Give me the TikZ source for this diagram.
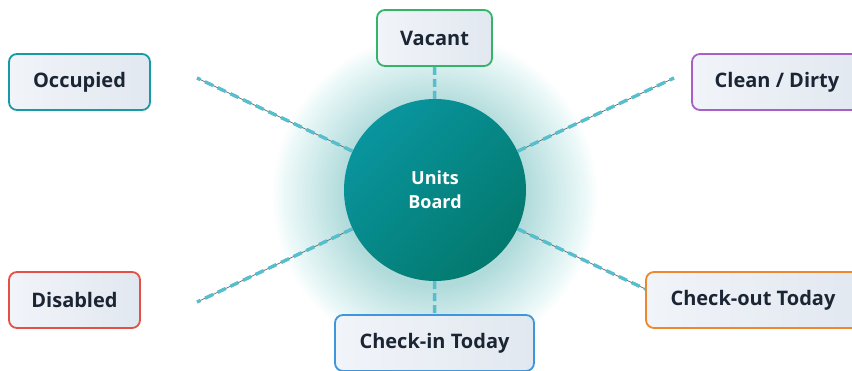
\documentclass[tikz,border=0pt]{standalone}
\usepackage{fontspec}
\setmainfont{Open Sans}
\usetikzlibrary{calc}
\definecolor{glowc}{RGB}{110,196,202}
\definecolor{hubA}{RGB}{9,149,158}
\definecolor{hubB}{RGB}{3,121,110}
\definecolor{boxA}{RGB}{241,244,249}
\definecolor{boxB}{RGB}{226,232,240}
\definecolor{txt}{RGB}{27,37,52}
\definecolor{cgreen}{RGB}{52,180,104}
\definecolor{cteal}{RGB}{24,154,166}
\definecolor{cpurple}{RGB}{168,96,198}
\definecolor{cred}{RGB}{229,80,70}
\definecolor{cblue}{RGB}{62,150,220}
\definecolor{corange}{RGB}{238,136,46}
\definecolor{dashc}{RGB}{86,190,204}
\definecolor{linec}{RGB}{100,100,100}
\tikzset{
  statebox/.style={draw=#1, line width=1.8pt, rounded corners=8pt,
    left color=boxA, right color=boxB, text=txt,
    font=\fontsize{20}{24}\selectfont\bfseries,
    minimum height=56pt, inner sep=0pt},
  hubnode/.style={circle, minimum size=182pt, inner sep=0pt,
    top color=hubA, bottom color=hubB, shading angle=45,
    text=white, align=center,
    font=\fontsize{18}{24}\selectfont\bfseries},
  baseline line/.style={draw=linec, line width=0.7pt},
  dashline/.style={draw=dashc, line width=3.4pt, dash pattern=on 9pt off 5pt},
  vdash/.style={draw=dashc, line width=3.5pt, dash pattern=on 8pt off 4pt},
  glowring/.style={fill=glowc, opacity=0.017}
}
\begin{document}
\begin{tikzpicture}[x=1pt,y=-1pt]
\useasboundingbox (0,0) rectangle (852,370);
\clip (0,0) rectangle (852,370);
\fill[white] (0,0) rectangle (852,370);
% glow
\foreach \r in {92,94,...,162}{
  \fill[glowring] (435,196) circle (\r);
}
% hub
\node[hubnode] (hub) at (435,190) {Units\\Board};
% free ends of diagonal connectors
\coordinate (ul) at (197,78);
\coordinate (ur) at (674,78);
\coordinate (ll) at (197,302);
\coordinate (lr) at (673,302);
% boxes
\node[statebox=cgreen, minimum width=115pt] (vacant) at (434.5,38) {Vacant};
\node[statebox=cteal, minimum width=141pt] (occupied) at (79.5,82) {Occupied};
\node[statebox=cpurple, minimum width=170pt] (clean) at (777,82) {Clean / Dirty};
\node[statebox=cred, minimum width=131pt] (disabled) at (74.5,300) {Disabled};
\node[statebox=cblue, minimum width=199pt] (checkin) at (434.5,343) {Check-in Today};
% connectors
\foreach \e in {ul,ur,ll,lr}{
  \draw[baseline line] (hub) -- (\e);
  \draw[dashline] (hub) -- (\e);
}
\draw[vdash] (hub) -- (vacant);
\draw[vdash] (hub) -- (checkin);
\node[statebox=corange, minimum width=214pt] (checkout) at (753,300) {Check-out Today};
\end{tikzpicture}
\end{document}
